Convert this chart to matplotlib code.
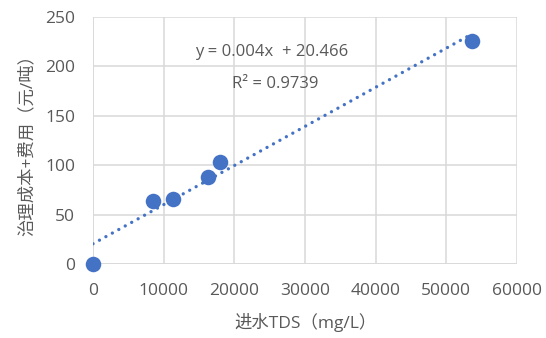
import matplotlib
matplotlib.use("Agg")
import matplotlib.pyplot as plt
import numpy as np

plt.rcParams['font.family'] = ['Open Sans', 'Noto Sans CJK SC', 'DejaVu Sans']

tds = [0, 8500, 11300, 16300, 17950, 53600]
cost = [0, 64, 66, 88, 103, 226]
trend_slope = 0.00396
trend_intercept = 20.466
eq_text = "y = 0.004x  + 20.466"
r2_text = "R² = 0.9739"
xticks = [0, 10000, 20000, 30000, 40000, 50000, 60000]
yticks = [0, 50, 100, 150, 200, 250]

blue = '#4472C4'
grid = '#D9D9D9'
txt = '#595959'
fs = 12.5

fig = plt.figure(figsize=(5.46, 3.38), dpi=100)
ax = fig.add_axes([93/546, (338-264)/338, (517-93)/546, (264-17)/338])

xs = np.array([min(tds), max(tds)])
ax.plot(xs, trend_slope*xs + trend_intercept, linestyle=(0, (0.01, 2.2)), color=blue, lw=2.4,
        dash_capstyle='round', solid_capstyle='round', zorder=2)
ax.scatter(tds, cost, s=125, color=blue, zorder=3, clip_on=False, linewidths=0)

ax.set_xlim(0, 60000)
ax.set_ylim(0, 250)
ax.set_xticks(xticks)
ax.set_yticks(yticks)
ax.grid(True, color=grid, lw=1.1)
ax.set_axisbelow(True)
for s in ax.spines.values():
    s.set_visible(False)
ax.axhline(0, color=grid, lw=1.1, zorder=1)
ax.axvline(0, color=grid, lw=1.1, zorder=1)
ax.tick_params(length=0, colors=txt, labelsize=fs)
ax.tick_params(axis='x', pad=14)
ax.tick_params(axis='y', pad=13)

ax.text(14400, 214.5, eq_text, ha='left', va='center', color=txt, fontsize=12)
ax.text(19650, 182, r2_text, ha='left', va='center', color=txt, fontsize=12)

ax.set_xlabel("进水TDS（mg/L）", color=txt, fontsize=12.5, labelpad=10)
ax.set_ylabel("治理成本+费用（元/吨）", color=txt, fontsize=12.5, labelpad=7)

fig.savefig("out.png", dpi=100)
